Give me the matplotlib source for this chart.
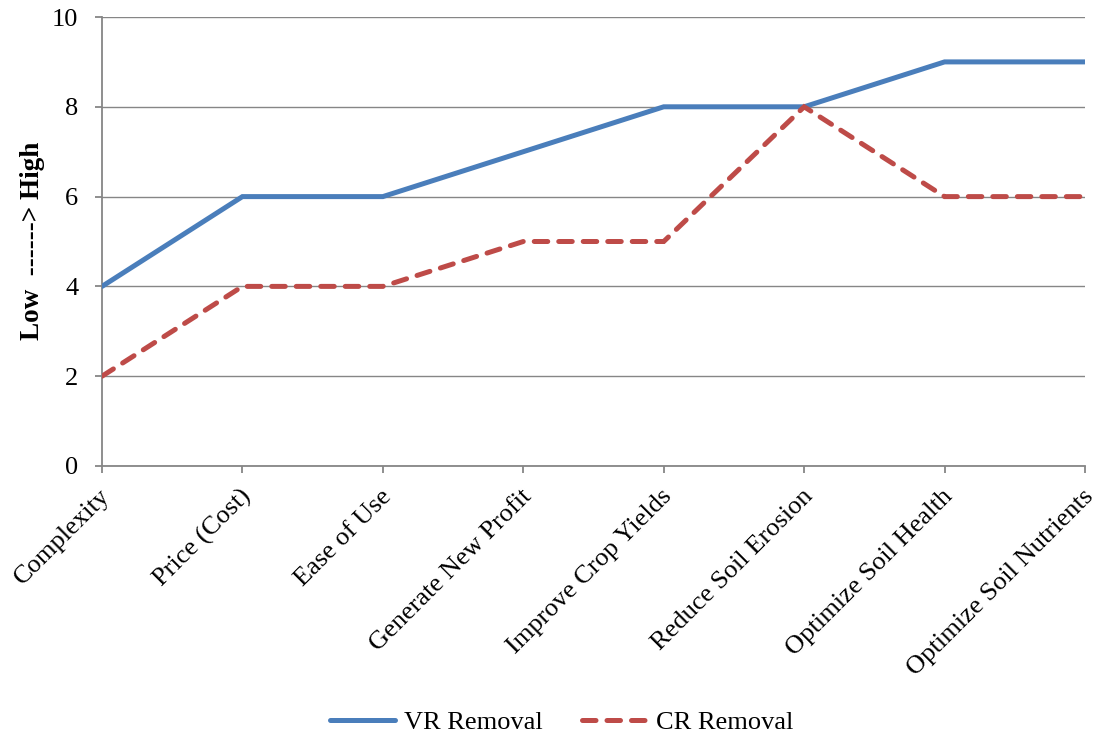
import matplotlib
matplotlib.use("Agg")
import matplotlib.pyplot as plt
from matplotlib.transforms import ScaledTranslation

plt.rcParams["font.family"] = ["Liberation Serif", "DejaVu Serif"]

categories = ["Complexity", "Price (Cost)", "Ease of Use", "Generate New Profit",
              "Improve Crop Yields", "Reduce Soil Erosion", "Optimize Soil Health",
              "Optimize Soil Nutrients"]
vr_removal = [4, 6, 6, 7, 8, 8, 9, 9]
cr_removal = [2, 4, 4, 5, 5, 8, 6, 6]
y_ticks = [0, 2, 4, 6, 8, 10]

blue = "#4A7EBB"
red = "#BE4B48"
gray = "#868686"

fig = plt.figure(figsize=(10.96, 7.38), dpi=100)
ax = fig.add_axes([102 / 1096, 1 - 466 / 738, (1085 - 102) / 1096, (466 - 17) / 738])

x = list(range(len(categories)))
ax.plot(x, vr_removal, color=blue, lw=3.6, solid_capstyle="round",
        solid_joinstyle="miter", label="VR Removal", zorder=3)
ax.plot(x, cr_removal, color=red, lw=3.6, dashes=(2.7, 2.2), dash_capstyle="round",
        dash_joinstyle="miter", label="CR Removal", zorder=3)

ax.set_xlim(0, len(categories) - 1)
ax.set_ylim(0, 10)
ax.set_yticks(y_ticks)
ax.set_xticks(x)
ax.set_xticklabels(categories, rotation=45, ha="right", va="center",
                   rotation_mode="anchor")

ax.grid(axis="y", color=gray, lw=1.0)
ax.set_axisbelow(True)
for side in ("top", "right"):
    ax.spines[side].set_visible(False)
for side in ("left", "bottom"):
    ax.spines[side].set_color(gray)
    ax.spines[side].set_linewidth(1.3)

ax.tick_params(axis="both", direction="out", length=5, width=1.3, color=gray,
               labelsize=19, labelcolor="black")
ax.tick_params(axis="y", pad=12)
ax.tick_params(axis="x", pad=14.5)

# nudge the slanted category labels slightly to the right
shift = ScaledTranslation(5 / 100, 0, fig.dpi_scale_trans)
for lbl in ax.get_xticklabels():
    lbl.set_transform(lbl.get_transform() + shift)

fig.text(33 / 1096, 1 - 241 / 738, "Low  ------> High", rotation=90,
         fontsize=19.5, fontweight="bold", ha="center", va="center")

fig.legend(loc="center", bbox_to_anchor=(562 / 1096, 1 - 722 / 738), ncol=2,
           frameon=False, fontsize=19, handlelength=2.45, columnspacing=1.5,
           handletextpad=0.35)

fig.savefig("out.png", dpi=100)
